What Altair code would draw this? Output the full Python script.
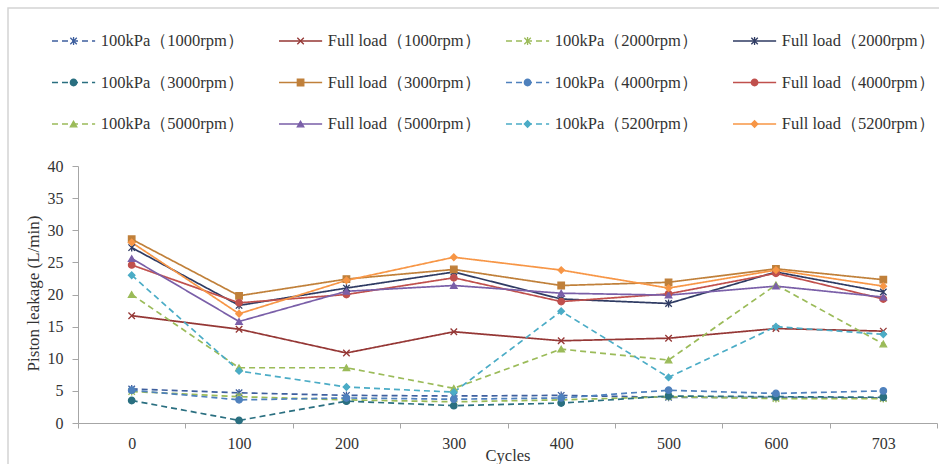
import altair as alt
import pandas as pd

# Test cycles (categorical x axis)
cycles = ["0", "100", "200", "300", "400", "500", "600", "703"]

# Series names, in legend order (row by row, four per row)
series_names = [
    "100kPa（1000rpm）", "Full load（1000rpm）", "100kPa（2000rpm）", "Full load（2000rpm）",
    "100kPa（3000rpm）", "Full load（3000rpm）", "100kPa（4000rpm）", "Full load（4000rpm）",
    "100kPa（5000rpm）", "Full load（5000rpm）", "100kPa（5200rpm）", "Full load（5200rpm）",
]

# Piston leakage, L/min
kpa_1000 = [5.3, 4.7, 4.3, 4.2, 4.3, 4.0, 4.0, 3.9]
full_1000 = [16.7, 14.6, 10.9, 14.2, 12.8, 13.2, 14.7, 14.3]
kpa_2000 = [4.9, 4.1, 3.6, 3.3, 3.6, 4.1, 3.8, 3.8]
full_2000 = [27.3, 18.3, 21.0, 23.5, 19.3, 18.6, 23.5, 20.4]
kpa_3000 = [3.5, 0.4, 3.4, 2.7, 3.1, 4.2, 4.1, 4.0]
full_3000 = [28.6, 19.8, 22.4, 23.9, 21.4, 21.9, 24.0, 22.3]
kpa_4000 = [5.1, 3.6, 3.9, 3.7, 3.9, 5.1, 4.6, 5.0]
full_4000 = [24.6, 18.7, 20.0, 22.6, 18.9, 20.1, 23.3, 19.3]
kpa_5000 = [20.0, 8.6, 8.6, 5.4, 11.5, 9.8, 21.5, 12.3]
full_5000 = [25.6, 15.8, 20.5, 21.4, 20.2, 19.9, 21.3, 19.6]
kpa_5200 = [23.0, 8.1, 5.6, 4.8, 17.4, 7.1, 15.0, 13.8]
full_5200 = [28.1, 17.0, 22.2, 25.8, 23.8, 21.0, 23.8, 21.3]

series_values = [
    kpa_1000, full_1000, kpa_2000, full_2000, kpa_3000, full_3000,
    kpa_4000, full_4000, kpa_5000, full_5000, kpa_5200, full_5200,
]

colors = [
    "#3e5f9e", "#953735", "#9bbb59", "#2f3b63",
    "#2a6f80", "#c0803a", "#4f81bd", "#c0504d",
    "#9bbb59", "#7a5fa8", "#4bacc6", "#f79646",
]

STAR = "M-1,-1L1,1M-1,1L1,-1M0,-1.2L0,1.2"
XMARK = "M-1,-1L1,1M-1,1L1,-1"
shapes = [
    STAR, XMARK, STAR, STAR,
    "circle", "square", "circle", "circle",
    "triangle-up", "triangle-up", "diamond", "diamond",
]
is_kpa = [n.startswith("100kPa") for n in series_names]
dashes = [[6, 4] if k else [1, 0] for k in is_kpa]
legend_dashes = [[7, 5] if k else [1, 0] for k in is_kpa]

rows = []
for name, vals in zip(series_names, series_values):
    for c, v in zip(cycles, vals):
        rows.append({"Series": name, "Cycles": c, "Leakage": v})
df = pd.DataFrame(rows)

legend_df = pd.DataFrame({
    "Series": series_names,
    "row": [i // 4 for i in range(len(series_names))],
    "col": [i % 4 for i in range(len(series_names))],
})

FONT = "Times New Roman, Liberation Serif, serif"
TEXT = "#333333"
AXIS = "#a6a6a6"
W, H = 859, 257

stroke_enc = alt.Stroke("Series:N", scale=alt.Scale(domain=series_names, range=colors), legend=None)
fill_enc = alt.Fill("Series:N", scale=alt.Scale(domain=series_names, range=colors), legend=None)
dash_enc = alt.StrokeDash("Series:N", scale=alt.Scale(domain=series_names, range=dashes), legend=None)
shape_enc = alt.Shape("Series:N", scale=alt.Scale(domain=series_names, range=shapes), legend=None)

base = alt.Chart(df).encode(
    x=alt.X(
        "Cycles:N",
        sort=cycles,
        scale=alt.Scale(type="band", domain=cycles, paddingInner=0, paddingOuter=0),
        axis=alt.Axis(
            title="Cycles", tickBand="extent", labelAngle=0, grid=False,
            domainColor=AXIS, tickColor=AXIS, tickSize=5, labelPadding=7,
            labelFont=FONT, labelFontSize=16, labelColor=TEXT,
            titleFont=FONT, titleFontSize=16.5, titleColor=TEXT, titleFontWeight="normal",
            titleY=32, titleBaseline="middle",
        ),
    ),
    y=alt.Y(
        "Leakage:Q",
        scale=alt.Scale(domain=[0, 40], nice=False),
        axis=alt.Axis(
            title="Piston leakage (L/min)", values=list(range(0, 41, 5)), grid=False,
            domainColor=AXIS, tickColor=AXIS, tickSize=6, labelPadding=9,
            labelFont=FONT, labelFontSize=16, labelColor=TEXT,
            titleFont=FONT, titleFontSize=17, titleColor=TEXT, titleFontWeight="normal",
            titleAngle=270, titleX=-45, titleY=127, titleBaseline="middle",
        ),
    ),
)

lines = base.mark_line(strokeWidth=1.7).encode(stroke=stroke_enc, strokeDash=dash_enc, detail="Series:N")
points = base.mark_point(filled=True, size=42, strokeWidth=1.3, opacity=1).encode(
    fill=fill_enc, stroke=stroke_enc, shape=shape_enc
)
plot_layer = alt.layer(lines, points)

# Legend block drawn above the plot: 4 columns x 3 rows
SEG = 0.19
lx = alt.Scale(domain=[0, 4], range=[-26, 882], nice=False, zero=False)
ly = alt.Scale(domain=[0, 2], range=[-125, -42], nice=False, zero=False)
leg = alt.Chart(legend_df).transform_calculate(
    x_end=f"datum.col + {SEG}",
    x_mid=f"datum.col + {SEG / 2}",
    x_txt=f"datum.col + {SEG + 0.025}",
)
leg_rule = leg.mark_rule(strokeWidth=1.6).encode(
    x=alt.X("col:Q", scale=lx, axis=None),
    x2="x_end:Q",
    y=alt.Y("row:Q", scale=ly, axis=None),
    stroke=stroke_enc,
    strokeDash=alt.StrokeDash("Series:N", scale=alt.Scale(domain=series_names, range=legend_dashes), legend=None),
)
leg_pt = leg.mark_point(filled=True, size=42, strokeWidth=1.3, opacity=1).encode(
    x=alt.X("x_mid:Q", scale=lx, axis=None),
    y=alt.Y("row:Q", scale=ly, axis=None),
    fill=fill_enc, stroke=stroke_enc, shape=shape_enc,
)
leg_txt = leg.mark_text(align="left", baseline="middle", font=FONT, fontSize=16.5, color=TEXT).encode(
    x=alt.X("x_txt:Q", scale=lx, axis=None),
    y=alt.Y("row:Q", scale=ly, axis=None),
    text="Series:N",
)
legend_layer = alt.layer(leg_rule, leg_pt, leg_txt)

# Outer frame of the figure
frame = alt.Chart(pd.DataFrame({"k": [0]})).mark_rect(
    fillOpacity=0, stroke="#d4d4d4", strokeWidth=1.5
).encode(
    x=alt.value(-70), x2=alt.value(W + 40), y=alt.value(-158), y2=alt.value(H + 60)
)

chart = alt.layer(frame, plot_layer, legend_layer).resolve_scale(
    x="independent", y="independent"
).properties(
    width=W, height=H,
    autosize=alt.AutoSizeParams(type="none"),
    padding={"left": 78, "top": 166, "right": 2, "bottom": 41},
    background="white",
).configure_view(strokeWidth=0)

chart.save("out.html", embed_options={"renderer": "svg", "actions": False})
